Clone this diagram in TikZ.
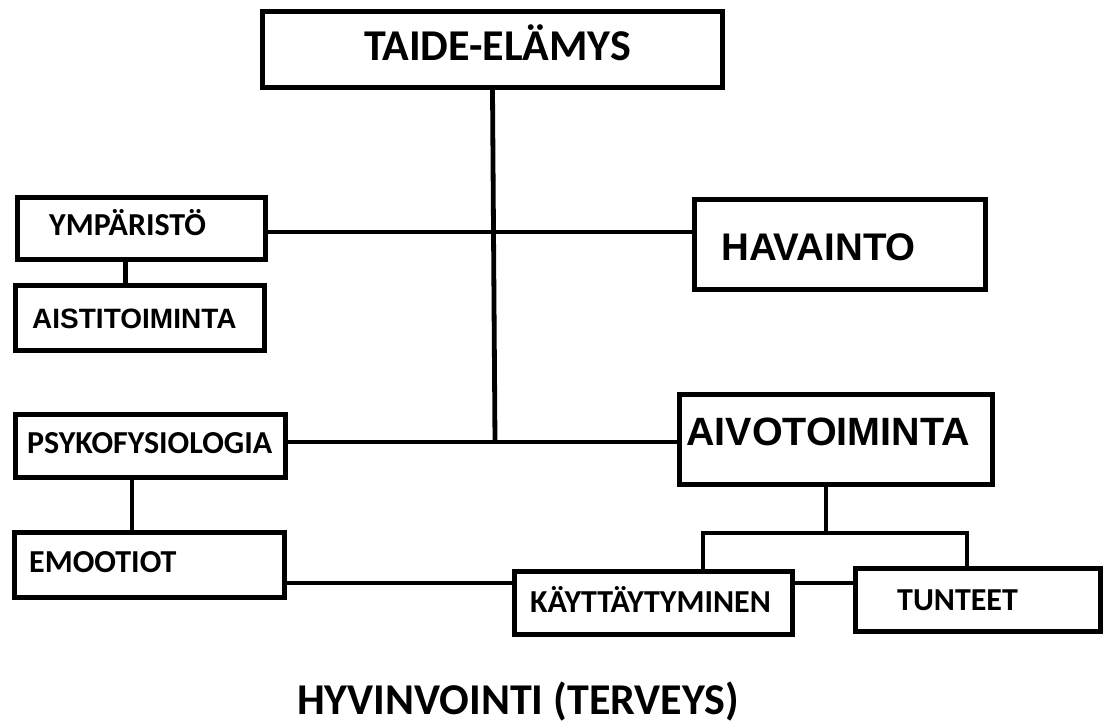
\documentclass[tikz,border=0pt]{standalone}
\usepackage{fontspec}
\setmainfont{Carlito}
\newfontfamily\arialfont{Liberation Sans}
\usepackage{tikz}
\usetikzlibrary{calc}

\begin{document}
\begin{tikzpicture}[x=1pt, y=-1pt,
    box/.style={draw, line width=4.8pt, inner sep=0pt},
    link/.style={line width=4.8pt},
    lbl/.style={inner sep=0pt, anchor=base west, font=\bfseries\fontsize{32}{32}\selectfont},
    lblarial/.style={inner sep=0pt, anchor=base west, font=\arialfont\bfseries\fontsize{#1}{#1}\selectfont},
    title/.style={inner sep=0pt, anchor=base, font=\bfseries\fontsize{44}{44}\selectfont}]

    \useasboundingbox (0,0) rectangle (1106,728);

    %boxes
    \node[box, minimum width=460.2pt, minimum height=76.2pt] (taide) at (492.5,49.5) {};
    \node[box, minimum width=248.2pt, minimum height=62.2pt] (ymp) at (141.5,228.5) {};
    \node[box, minimum width=249.2pt, minimum height=65.2pt] (aisti) at (140,318) {};
    \node[box, minimum width=291.2pt, minimum height=90.2pt] (havainto) at (840,244.5) {};
    \node[box, minimum width=270.2pt, minimum height=63.2pt] (psyko) at (150.5,446) {};
    \node[box, minimum width=313.2pt, minimum height=90.2pt] (aivo) at (836,439.5) {};
    \node[box, minimum width=270.2pt, minimum height=65.2pt] (emoot) at (149.5,565) {};
    \node[box, minimum width=278.2pt, minimum height=63.2pt] (kayt) at (653.5,603) {};
    \node[box, minimum width=245.2pt, minimum height=63.2pt] (tunteet) at (978,600) {};

    %texts
    \node[title] (taide-t) at (497.5,60) {TAIDE-ELÄMYS};
    \node[lbl] (ymp-t) at (49,235) {YMPÄRISTÖ};
    \node[lblarial=28] (aisti-t) at (32,328) {AISTITOIMINTA};
    \node[lblarial=38.5] (havainto-t) at (721,260) {HAVAINTO};
    \node[lbl] (psyko-t) at (27,453) {PSYKOFYSIOLOGIA};
    \node[lblarial=39.5] (aivo-t) at (686,445) {AIVOTOIMINTA};
    \node[lbl] (emoot-t) at (29,572) {EMOOTIOT};
    \node[lbl] (kayt-t) at (530,612) {KÄYTTÄYTYMINEN};
    \node[lbl] (tunteet-t) at (897,610) {TUNTEET};
    \node[title] (hyvin) at (518,714) {HYVINVOINTI (TERVEYS)};

    %junctions
    \coordinate (top) at (495,232);
    \coordinate (mid) at (495,442);
    \coordinate (low) at (0,583);
    \coordinate (split) at (826,533);
    \coordinate (kl) at (703,533);
    \coordinate (tr) at (967,533);

    %connectors
    \draw[link] (taide.south) -- (mid);
    \draw[link] (ymp.east |- top) -- (havainto.west |- top);
    \draw[link] (psyko.east |- mid) -- (aivo.west |- mid);
    \draw[link] ([xshift=-16pt]ymp.south) -- ([xshift=-16pt]ymp.south |- aisti.north);
    \draw[link] ([xshift=-18.5pt]psyko.south) -- ([xshift=-18.5pt]psyko.south |- emoot.north);
    \draw[link] (aivo.south -| split) -- (split);
    \draw[link] (kayt.north -| kl) -- (kl) -- (tr) -- (tunteet.north -| tr);
    \draw[link] (emoot.east |- low) -- (kayt.west |- low);
    \draw[link] (kayt.east |- low) -- (tunteet.west |- low);

\end{tikzpicture}
\end{document}
